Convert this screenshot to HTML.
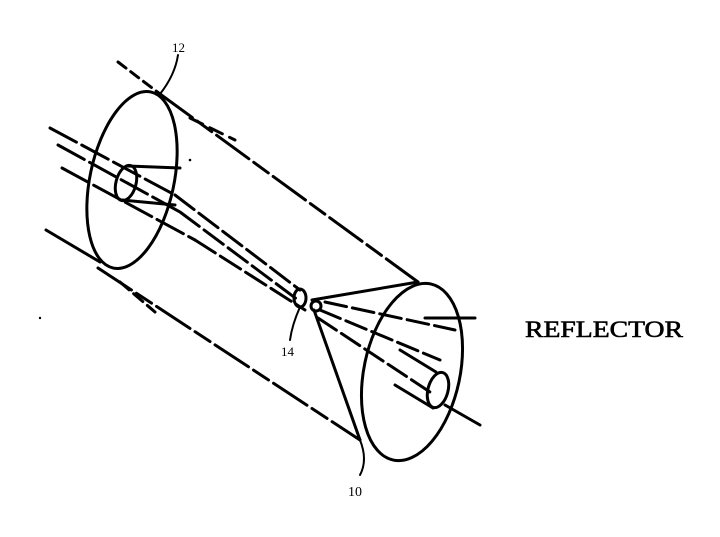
<!DOCTYPE html>
<html><head><meta charset="utf-8"><style>
html,body{margin:0;padding:0;background:#fff;width:720px;height:537px;overflow:hidden}
</style></head><body>
<svg width="720" height="537" viewBox="0 0 720 537" xmlns="http://www.w3.org/2000/svg">
<g fill="none" stroke="#000" stroke-width="3" stroke-linecap="round">
<ellipse cx="132" cy="180" rx="42" ry="90" transform="rotate(12 132 180)"/>
<ellipse cx="126" cy="183" rx="10" ry="18" transform="rotate(15 126 183)"/>
<path d="M128 166 L180 168 M122 200 L175 205"/>
<ellipse cx="412" cy="372" rx="48" ry="90" transform="rotate(12 412 372)"/>
<ellipse cx="438" cy="390" rx="10" ry="18" transform="rotate(15 438 390)"/>
<path d="M436 372 L400 350 M433 408 L395 385"/>
<path d="M160 94 L418 282" stroke-dasharray="40 6 18 6"/>
<path d="M98 268 L360 440" stroke-dasharray="40 6 18 6"/>
<path d="M418 282 L312 300 M360 440 L314 310"/>
<path d="M50 128 L175 195" stroke-dasharray="30 6"/>
<path d="M58 145 L180 212" stroke-dasharray="30 6"/>
<path d="M62 168 L195 240" stroke-dasharray="30 6"/>
<path d="M46 230 L100 262"/>
<path d="M120 282 L155 312" stroke-dasharray="12 6"/>
<path d="M118 62 L160 94" stroke-dasharray="10 6"/>
<path d="M190 118 L235 140" stroke-dasharray="14 8"/>
<path d="M175 195 L300 290" stroke-dasharray="24 6"/>
<path d="M180 212 L298 300" stroke-dasharray="24 6"/>
<path d="M195 240 L305 310" stroke-dasharray="24 6"/>
<path d="M320 310 L440 360" stroke-dasharray="22 6"/>
<path d="M318 318 L430 392" stroke-dasharray="22 6"/>
<path d="M325 302 L455 330" stroke-dasharray="22 6"/>
<path d="M445 405 L480 425"/>
<path d="M425 318 L475 318"/>
<ellipse cx="300" cy="298" rx="6" ry="9"/>
<circle cx="316" cy="306" r="5"/>
<path d="M160 94 Q175 75 178 55" stroke-width="2"/>
<path d="M300 307 Q292 325 290 340" stroke-width="2"/>
<path d="M360 440 Q368 460 360 475" stroke-width="2"/>
</g>
<g font-family="Liberation Serif, serif" fill="#000">
<text x="172" y="52" font-size="13">12</text>
<text x="281" y="356" font-size="13">14</text>
<text x="348" y="496" font-size="14">10</text>
<text x="525" y="337" font-size="23" textLength="158" lengthAdjust="spacingAndGlyphs" stroke="#000" stroke-width="0.6">REFLECTOR</text>
</g>
<circle cx="190" cy="160" r="1.3" fill="#000"/>
<circle cx="40" cy="318" r="1.2" fill="#000"/>
</svg>
</body></html>
